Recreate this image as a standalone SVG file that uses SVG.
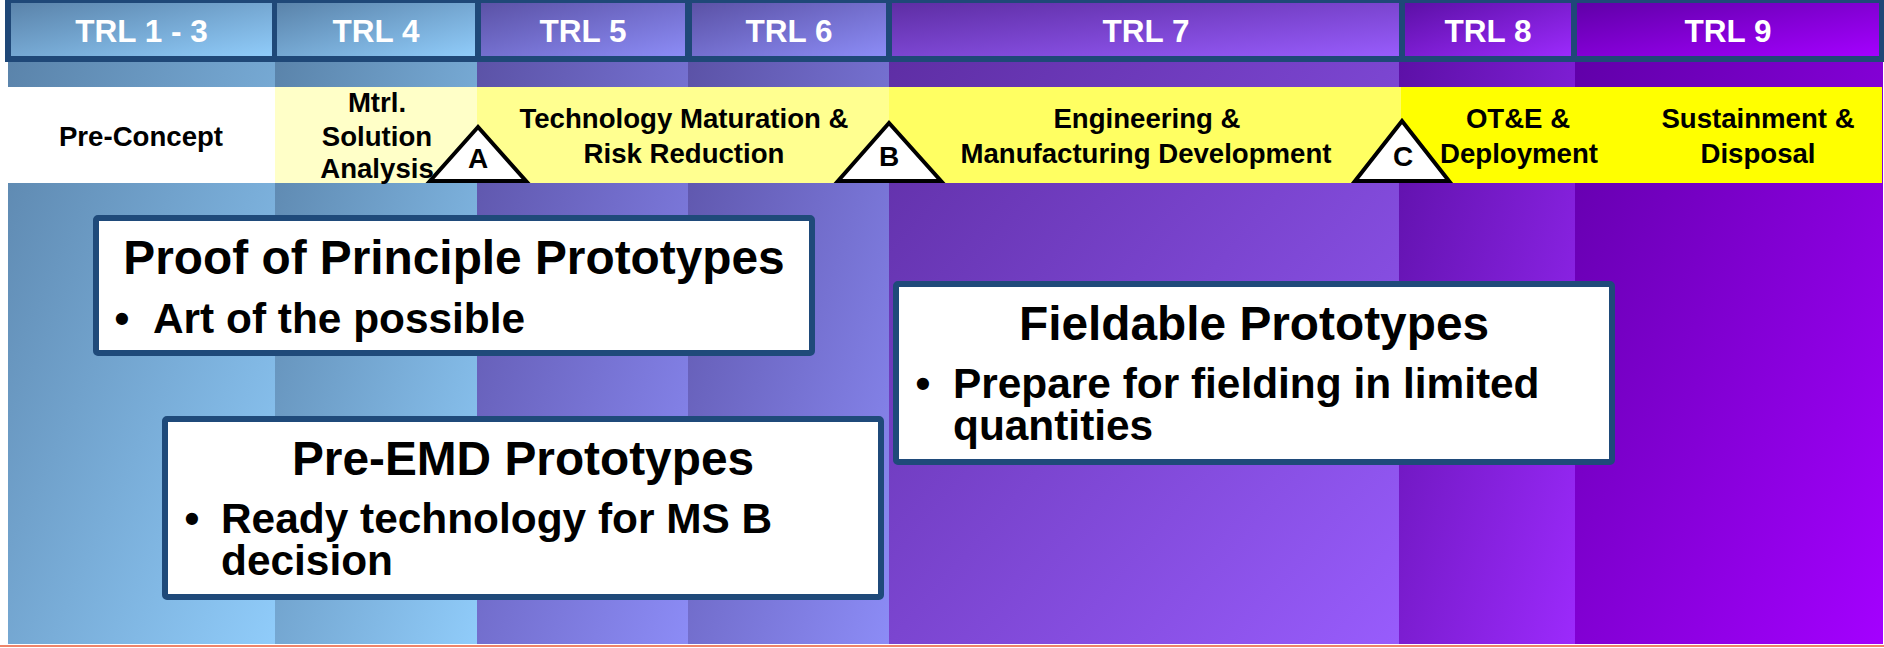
<svg xmlns="http://www.w3.org/2000/svg" width="1884" height="648" viewBox="0 0 1884 648">
  <style>
    .hdr { font-family: "Liberation Sans", Arial, sans-serif; font-weight: bold; font-size: 31.5px; fill: #ffffff; text-anchor: middle; }
    .phase { font-family: "Liberation Sans", Arial, sans-serif; font-weight: bold; font-size: 27.6px; fill: #000000; text-anchor: middle; }
    .ms { fill: #ffffff; stroke: #000000; stroke-width: 4; stroke-linejoin: miter; }
    .msl { font-family: "Liberation Sans", Arial, sans-serif; font-weight: bold; font-size: 28px; fill: #000000; text-anchor: middle; }
    .box { fill: #ffffff; stroke: #1f4a7a; stroke-width: 6; }
    .title { font-family: "Liberation Sans", Arial, sans-serif; font-weight: bold; font-size: 47.8px; fill: #000000; text-anchor: middle; }
    .bul { font-family: "Liberation Sans", Arial, sans-serif; font-weight: bold; font-size: 42.4px; fill: #000000; }
    .dot { font-family: "Liberation Sans", Arial, sans-serif; font-weight: bold; font-size: 42.4px; fill: #000000; text-anchor: middle; }
  </style>
  <defs>
    <linearGradient id="gBlue" x1="0" y1="0" x2="1" y2="1">
      <stop offset="0" stop-color="#5a83aa"/>
      <stop offset="1" stop-color="#90ccfa"/>
    </linearGradient>
    <linearGradient id="gLav" x1="0" y1="0" x2="1" y2="1">
      <stop offset="0" stop-color="#5b52a6"/>
      <stop offset="1" stop-color="#8c8cf6"/>
    </linearGradient>
    <linearGradient id="gPurp" x1="0" y1="0" x2="1" y2="1">
      <stop offset="0" stop-color="#5e2ea4"/>
      <stop offset="1" stop-color="#985cfc"/>
    </linearGradient>
    <linearGradient id="gViol" x1="0" y1="0" x2="1" y2="1">
      <stop offset="0" stop-color="#5c10a6"/>
      <stop offset="1" stop-color="#9c2afc"/>
    </linearGradient>
    <linearGradient id="gMag" x1="0" y1="0" x2="1" y2="1">
      <stop offset="0" stop-color="#6000a8"/>
      <stop offset="1" stop-color="#a400ff"/>
    </linearGradient>
  </defs>

  <rect x="0" y="0" width="1884" height="648" fill="#ffffff"/>

  <!-- TRL columns -->
  <g id="columns">
    <rect x="8" y="56" width="267" height="588" fill="url(#gBlue)"/>
    <rect x="275" y="56" width="202" height="588" fill="url(#gBlue)"/>
    <rect x="477" y="56" width="211" height="588" fill="url(#gLav)"/>
    <rect x="688" y="56" width="201" height="588" fill="url(#gLav)"/>
    <rect x="889" y="56" width="510" height="588" fill="url(#gPurp)"/>
    <rect x="1399" y="56" width="176" height="588" fill="url(#gViol)"/>
    <rect x="1575" y="56" width="308" height="588" fill="url(#gMag)"/>
  </g>
  <rect x="0" y="645" width="1884" height="2" fill="#f0846a"/>

  <!-- TRL header row -->
  <g id="header">
    <rect x="5" y="0" width="1879" height="62" fill="#1f4878"/>
    <g id="trl1-3">
      <rect x="11" y="3" width="261" height="53" fill="url(#gBlue)"/>
      <text class="hdr" x="141.5" y="42">TRL 1 - 3</text>
    </g>
    <g id="trl4">
      <rect x="277" y="3" width="198" height="53" fill="url(#gBlue)"/>
      <text class="hdr" x="376" y="42">TRL 4</text>
    </g>
    <g id="trl5">
      <rect x="481" y="3" width="204" height="53" fill="url(#gLav)"/>
      <text class="hdr" x="583" y="42">TRL 5</text>
    </g>
    <g id="trl6">
      <rect x="692" y="3" width="194" height="53" fill="url(#gLav)"/>
      <text class="hdr" x="789" y="42">TRL 6</text>
    </g>
    <g id="trl7">
      <rect x="892" y="3" width="507" height="53" fill="url(#gPurp)"/>
      <text class="hdr" x="1146" y="42">TRL 7</text>
    </g>
    <g id="trl8">
      <rect x="1405" y="3" width="166" height="53" fill="url(#gViol)"/>
      <text class="hdr" x="1488" y="42">TRL 8</text>
    </g>
    <g id="trl9">
      <rect x="1577" y="3" width="302" height="53" fill="url(#gMag)"/>
      <text class="hdr" x="1728" y="42">TRL 9</text>
    </g>
  </g>

  <!-- Acquisition phase band -->
  <g id="phases">
    <g id="pre-concept">
      <rect x="8" y="87" width="267" height="96" fill="#ffffff"/>
      <text class="phase" x="141" y="146">Pre-Concept</text>
    </g>
    <g id="msa">
      <rect x="275" y="87" width="202" height="96" fill="#ffffc8"/>
      <text class="phase" x="377" y="112">Mtrl.</text>
      <text class="phase" x="377" y="146">Solution</text>
      <text class="phase" x="377" y="178">Analysis</text>
    </g>
    <g id="tmrr">
      <rect x="477" y="87" width="412" height="96" fill="#ffff90"/>
      <text class="phase" x="684" y="128">Technology Maturation &amp;</text>
      <text class="phase" x="684" y="163">Risk Reduction</text>
    </g>
    <g id="emd">
      <rect x="889" y="87" width="512" height="96" fill="#ffff62"/>
      <text class="phase" x="1147" y="128">Engineering &amp;</text>
      <text class="phase" x="1146" y="163">Manufacturing Development</text>
    </g>
    <g id="ote">
      <rect x="1401" y="87" width="481" height="96" fill="#ffff00"/>
      <text class="phase" x="1518" y="128">OT&amp;E &amp;</text>
      <text class="phase" x="1519" y="163">Deployment</text>
    </g>
    <g id="sustainment">
      <text class="phase" x="1758" y="128">Sustainment &amp;</text>
      <text class="phase" x="1758" y="163">Disposal</text>
    </g>
  </g>

  <!-- Milestones -->
  <g id="milestone-a">
    <polygon class="ms" points="478,127 430,181 526,181"/>
    <text class="msl" x="478" y="168">A</text>
  </g>
  <g id="milestone-b">
    <polygon class="ms" points="889,123 838,181 941,181"/>
    <text class="msl" x="889" y="166">B</text>
  </g>
  <g id="milestone-c">
    <polygon class="ms" points="1402,121 1355,181 1449,181"/>
    <text class="msl" x="1403" y="166">C</text>
  </g>

  <!-- Prototype boxes -->
  <g id="proof-of-principle">
    <rect class="box" x="96" y="218" width="716" height="135" rx="2"/>
    <text class="title" x="454" y="274">Proof of Principle Prototypes</text>
    <text class="dot" x="122" y="333">•</text>
    <text class="bul" x="153" y="333">Art of the possible</text>
  </g>
  <g id="pre-emd">
    <rect class="box" x="165" y="419" width="716" height="178" rx="2"/>
    <text class="title" x="523" y="475">Pre-EMD Prototypes</text>
    <text class="dot" x="192" y="533">•</text>
    <text class="bul" x="221" y="533">Ready technology for MS B</text>
    <text class="bul" x="221" y="575">decision</text>
  </g>
  <g id="fieldable">
    <rect class="box" x="896" y="284" width="716" height="178" rx="2"/>
    <text class="title" x="1254" y="340">Fieldable Prototypes</text>
    <text class="dot" x="923" y="398">•</text>
    <text class="bul" x="953" y="398">Prepare for fielding in limited</text>
    <text class="bul" x="953" y="440">quantities</text>
  </g>
</svg>
